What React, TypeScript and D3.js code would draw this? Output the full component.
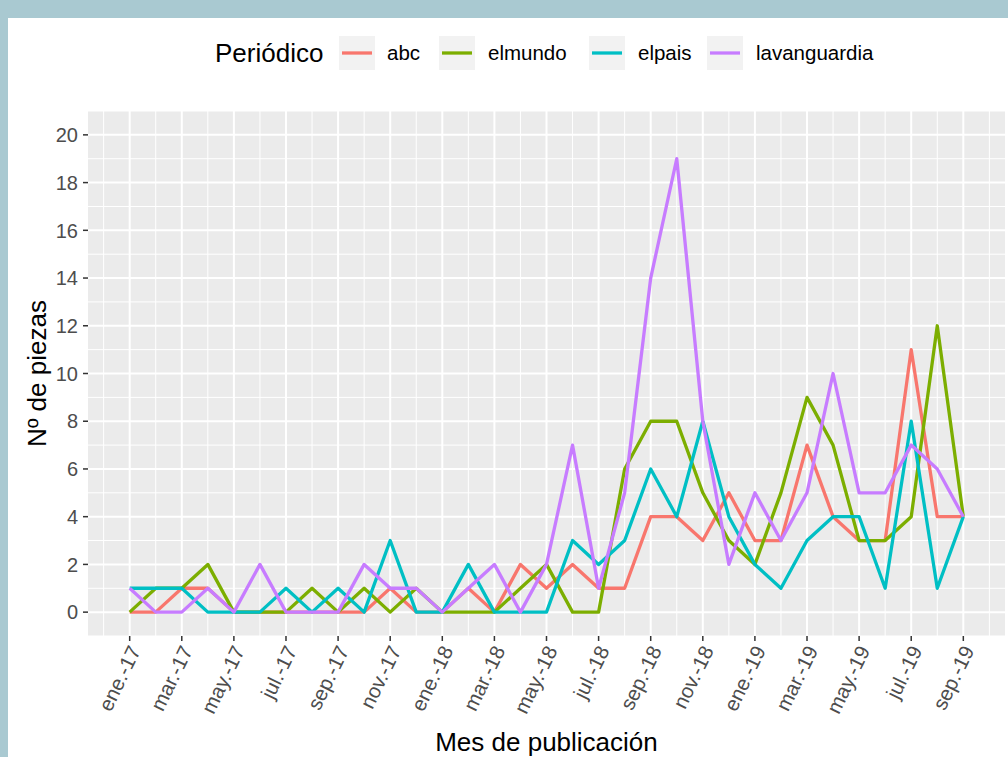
import React from 'react';
import * as d3 from 'd3';

// months from ene.-17 to sep.-19
const months = [
  'ene.-17', 'feb.-17', 'mar.-17', 'abr.-17', 'may.-17', 'jun.-17', 'jul.-17', 'ago.-17', 'sep.-17', 'oct.-17', 'nov.-17', 'dic.-17',
  'ene.-18', 'feb.-18', 'mar.-18', 'abr.-18', 'may.-18', 'jun.-18', 'jul.-18', 'ago.-18', 'sep.-18', 'oct.-18', 'nov.-18', 'dic.-18',
  'ene.-19', 'feb.-19', 'mar.-19', 'abr.-19', 'may.-19', 'jun.-19', 'jul.-19', 'ago.-19', 'sep.-19',
];

const abc = [0, 0, 1, 1, 0, 0, 0, 0, 0, 0, 1, 0, 0, 1, 0, 2, 1, 2, 1, 1, 4, 4, 3, 5, 3, 3, 7, 4, 3, 3, 11, 4, 4];
const elmundo = [0, 1, 1, 2, 0, 0, 0, 1, 0, 1, 0, 1, 0, 0, 0, 1, 2, 0, 0, 6, 8, 8, 5, 3, 2, 5, 9, 7, 3, 3, 4, 12, 4];
const elpais = [1, 1, 1, 0, 0, 0, 1, 0, 1, 0, 3, 0, 0, 2, 0, 0, 0, 3, 2, 3, 6, 4, 8, 4, 2, 1, 3, 4, 4, 1, 8, 1, 4];
const lavanguardia = [1, 0, 0, 1, 0, 2, 0, 0, 0, 2, 1, 1, 0, 1, 2, 0, 2, 7, 1, 5, 14, 19, 8, 2, 5, 3, 5, 10, 5, 5, 7, 6, 4];

const seriesNames = ['abc', 'elmundo', 'elpais', 'lavanguardia'];
const seriesValues = [abc, elmundo, elpais, lavanguardia];
const colors = ['#F8766D', '#7CAE00', '#00BFC4', '#C77CFF'];

const yTicks = [0, 2, 4, 6, 8, 10, 12, 14, 16, 18, 20];

const W = 1008;
const H = 757;
const panel = { left: 88, right: 1005, top: 111, bottom: 636 };
const font = 'Liberation Sans, Arial, Helvetica, sans-serif';

export default function App() {
  const x = d3.scaleLinear().domain([-1.6, months.length - 1 + 1.6]).range([panel.left, panel.right]);
  const y = d3.scaleLinear().domain([-1, 21]).range([panel.bottom, panel.top]);

  const line = d3.line<number>()
    .x((_, i) => x(i))
    .y(d => y(d));

  const majorX = d3.range(0, months.length, 2);
  const minorX = d3.range(-1, months.length + 1, 2);
  const minorY = d3.range(-1, 22, 2);

  // legend layout
  const legendY = 53;
  const keyX = [339, 439, 589, 707];
  const labelX = [387, 488, 638, 756];

  return (
    <svg width={W} height={H} style={{ position: 'absolute', left: 0, top: 0, background: '#fff' }}>
      <rect x={0} y={0} width={W} height={18} fill="#A9C9D1" />
      <rect x={0} y={0} width={8} height={H} fill="#A9C9D1" />

      {/* panel */}
      <rect x={panel.left} y={panel.top} width={panel.right - panel.left} height={panel.bottom - panel.top} fill="#EBEBEB" />
      <g stroke="#fff">
        {minorY.map(v => (
          <line key={'my' + v} x1={panel.left} x2={panel.right} y1={y(v)} y2={y(v)} strokeWidth={1} />
        ))}
        {minorX.map(v => (
          <line key={'mx' + v} y1={panel.top} y2={panel.bottom} x1={x(v)} x2={x(v)} strokeWidth={1} />
        ))}
        {yTicks.map(v => (
          <line key={'y' + v} x1={panel.left} x2={panel.right} y1={y(v)} y2={y(v)} strokeWidth={2} />
        ))}
        {majorX.map(v => (
          <line key={'x' + v} y1={panel.top} y2={panel.bottom} x1={x(v)} x2={x(v)} strokeWidth={2} />
        ))}
      </g>

      {/* series */}
      {seriesValues.map((vals, k) => (
        <path key={seriesNames[k]} d={line(vals) || ''} fill="none" stroke={colors[k]} strokeWidth={3.3} strokeLinejoin="round" />
      ))}

      {/* y axis */}
      {yTicks.map(v => (
        <g key={'yt' + v}>
          <line x1={panel.left - 5} x2={panel.left} y1={y(v)} y2={y(v)} stroke="#333" strokeWidth={1.5} />
          <text x={panel.left - 10} y={y(v)} dy="0.36em" textAnchor="end" fontFamily={font} fontSize={20} fill="#4D4D4D">{v}</text>
        </g>
      ))}

      {/* x axis */}
      {majorX.map(i => (
        <g key={'xt' + i}>
          <line x1={x(i)} x2={x(i)} y1={panel.bottom} y2={panel.bottom + 5} stroke="#333" strokeWidth={1.5} />
          <text
            transform={`translate(${x(i) + 5},${panel.bottom + 11}) rotate(-64)`}
            textAnchor="end"
            dy="0.35em"
            fontFamily={font}
            fontSize={20.5}
            fill="#4D4D4D"
          >
            {months[i]}
          </text>
        </g>
      ))}

      <text x={(panel.left + panel.right) / 2} y={751} textAnchor="middle" fontFamily={font} fontSize={26} fill="#000">Mes de publicación</text>
      <text transform={`translate(46,${(panel.top + panel.bottom) / 2}) rotate(-90)`} textAnchor="middle" fontFamily={font} fontSize={26} fill="#000">Nº de piezas</text>

      {/* legend */}
      <text x={215} y={legendY} dy="0.36em" fontFamily={font} fontSize={26} fill="#000">Periódico</text>
      {seriesNames.map((name, k) => (
        <g key={'lg' + name}>
          <rect x={keyX[k]} y={legendY - 17} width={36} height={34} fill="#F2F2F2" />
          <line x1={keyX[k] + 3} x2={keyX[k] + 33} y1={legendY} y2={legendY} stroke={colors[k]} strokeWidth={3.3} />
          <text x={labelX[k]} y={legendY} dy="0.36em" fontFamily={font} fontSize={20.5} fill="#000">{name}</text>
        </g>
      ))}
    </svg>
  );
}
